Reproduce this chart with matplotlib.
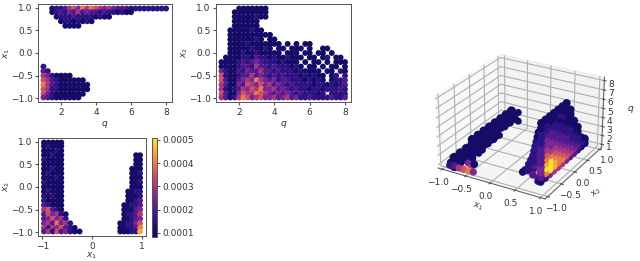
import numpy as np
import matplotlib
matplotlib.use('Agg')
import matplotlib.pyplot as plt
from matplotlib.colors import LinearSegmentedColormap, Normalize

# density levels, one level = 0.00005, 0 = no points
q_bins = [1, 1.25, 1.5, 1.75, 2, 2.25, 2.5, 2.75, 3, 3.25, 3.5, 3.75, 4, 4.25, 4.5,
          4.75, 5, 5.25, 5.5, 5.75, 6, 6.25, 6.5, 6.75, 7, 7.25, 7.5, 7.75, 8]
row_bins = [0.98, 0.9, 0.8, 0.7, 0.6, 0.5, 0.4, 0.3, 0.2, 0.1, 0.0, -0.1, -0.2, -0.3,
            -0.4, -0.5, -0.6, -0.7, -0.8, -0.9, -0.98]

q_x1_levels = [
    [0, 0, 2, 3, 3, 4, 6, 7, 5, 8, 6, 8, 7, 6, 5, 6, 5, 4, 4, 4, 3, 3, 3, 3, 3, 3, 3, 3, 3],
    [0, 0, 2, 3, 4, 3, 5, 4, 6, 4, 5, 4, 4, 3, 4, 3, 3, 2, 3, 2, 2, 0, 0, 0, 0, 0, 0, 0, 0],
    [0, 0, 0, 2, 3, 3, 3, 4, 3, 3, 3, 3, 2, 3, 2, 2, 0, 0, 0, 0, 0, 0, 0, 0, 0, 0, 0, 0, 0],
    [0, 0, 0, 0, 2, 3, 3, 2, 3, 2, 3, 2, 0, 0, 0, 0, 0, 0, 0, 0, 0, 0, 0, 0, 0, 0, 0, 0, 0],
    [0, 0, 0, 0, 0, 2, 2, 2, 2, 0, 0, 0, 0, 0, 0, 0, 0, 0, 0, 0, 0, 0, 0, 0, 0, 0, 0, 0, 0],
    [0] * 29,
    [0] * 29,
    [0] * 29,
    [0] * 29,
    [0] * 29,
    [0] * 29,
    [0] * 29,
    [0] * 29,
    [3, 0, 0, 0, 0, 0, 0, 0, 0, 0, 0, 0, 0, 0, 0, 0, 0, 0, 0, 0, 0, 0, 0, 0, 0, 0, 0, 0, 0],
    [4, 3, 0, 0, 0, 0, 0, 0, 0, 0, 0, 0, 0, 0, 0, 0, 0, 0, 0, 0, 0, 0, 0, 0, 0, 0, 0, 0, 0],
    [6, 5, 3, 2, 2, 2, 2, 0, 0, 0, 0, 0, 0, 0, 0, 0, 0, 0, 0, 0, 0, 0, 0, 0, 0, 0, 0, 0, 0],
    [7, 6, 4, 3, 2, 2, 2, 2, 2, 2, 0, 0, 0, 0, 0, 0, 0, 0, 0, 0, 0, 0, 0, 0, 0, 0, 0, 0, 0],
    [8, 6, 4, 3, 2, 2, 2, 2, 2, 2, 2, 0, 0, 0, 0, 0, 0, 0, 0, 0, 0, 0, 0, 0, 0, 0, 0, 0, 0],
    [7, 6, 3, 3, 2, 2, 2, 2, 2, 2, 2, 0, 0, 0, 0, 0, 0, 0, 0, 0, 0, 0, 0, 0, 0, 0, 0, 0, 0],
    [7, 5, 3, 2, 2, 2, 2, 2, 2, 2, 0, 0, 0, 0, 0, 0, 0, 0, 0, 0, 0, 0, 0, 0, 0, 0, 0, 0, 0],
    [5, 4, 3, 2, 2, 2, 2, 2, 2, 0, 0, 0, 0, 0, 0, 0, 0, 0, 0, 0, 0, 0, 0, 0, 0, 0, 0, 0, 0],
]

q_x2_levels = [
    [0, 0, 0, 0, 2, 2, 2, 2, 2, 2, 2, 0, 0, 0, 0, 0, 0, 0, 0, 0, 0, 0, 0, 0, 0, 0, 0, 0, 0],
    [0, 0, 0, 2, 2, 2, 2, 2, 2, 2, 2, 0, 0, 0, 0, 0, 0, 0, 0, 0, 0, 0, 0, 0, 0, 0, 0, 0, 0],
    [0, 0, 0, 2, 2, 2, 2, 2, 3, 2, 2, 0, 0, 0, 0, 0, 0, 0, 0, 0, 0, 0, 0, 0, 0, 0, 0, 0, 0],
    [0, 0, 0, 2, 2, 2, 2, 2, 2, 0, 0, 0, 0, 0, 0, 0, 0, 0, 0, 0, 0, 0, 0, 0, 0, 0, 0, 0, 0],
    [0, 0, 0, 2, 2, 2, 2, 2, 2, 0, 0, 0, 0, 0, 0, 0, 0, 0, 0, 0, 0, 0, 0, 0, 0, 0, 0, 0, 0],
    [0, 0, 2, 2, 2, 2, 2, 3, 2, 2, 0, 0, 0, 0, 0, 0, 0, 0, 0, 0, 0, 0, 0, 0, 0, 0, 0, 0, 0],
    [0, 0, 2, 2, 2, 2, 2, 2, 2, 2, 2, 2, 0, 0, 0, 0, 0, 0, 0, 0, 0, 0, 0, 0, 0, 0, 0, 0, 0],
    [0, 0, 2, 2, 2, 2, 2, 2, 3, 2, 0, 2, 2, 0, 0, 0, 0, 0, 0, 0, 0, 0, 0, 0, 0, 0, 0, 0, 0],
    [0, 0, 2, 2, 2, 2, 3, 2, 2, 2, 2, 2, 2, 2, 0, 2, 0, 2, 0, 2, 2, 0, 0, 0, 0, 0, 0, 0, 0],
    [0, 0, 2, 2, 2, 2, 2, 3, 2, 2, 3, 2, 0, 2, 2, 0, 2, 2, 2, 0, 2, 0, 0, 2, 2, 0, 0, 0, 0],
    [0, 0, 2, 2, 2, 3, 2, 2, 3, 2, 2, 2, 2, 2, 0, 2, 2, 2, 0, 2, 2, 0, 2, 2, 0, 2, 0, 0, 0],
    [0, 2, 2, 2, 2, 3, 3, 2, 4, 3, 3, 2, 3, 2, 2, 3, 2, 2, 2, 0, 2, 2, 0, 2, 3, 0, 2, 2, 0],
    [2, 2, 2, 2, 3, 4, 3, 4, 5, 4, 3, 3, 3, 2, 3, 2, 2, 2, 0, 2, 0, 2, 2, 0, 2, 0, 2, 2, 2],
    [2, 2, 2, 2, 3, 4, 4, 3, 6, 4, 4, 3, 4, 3, 3, 3, 2, 3, 2, 0, 2, 2, 0, 2, 0, 2, 2, 0, 2],
    [5, 3, 2, 2, 4, 3, 5, 4, 4, 6, 4, 4, 3, 4, 3, 3, 3, 2, 3, 2, 2, 2, 2, 0, 2, 2, 0, 3, 2],
    [7, 3, 2, 2, 3, 4, 4, 6, 4, 5, 4, 3, 4, 3, 4, 3, 3, 3, 2, 3, 2, 3, 2, 2, 0, 2, 3, 0, 3],
    [7, 4, 2, 2, 4, 5, 6, 5, 8, 6, 5, 4, 5, 3, 4, 4, 3, 3, 3, 2, 3, 2, 3, 2, 0, 2, 3, 3, 4],
    [6, 4, 2, 2, 5, 4, 7, 6, 5, 7, 5, 6, 4, 5, 4, 3, 4, 3, 3, 3, 3, 2, 3, 3, 2, 3, 2, 3, 4],
    [6, 3, 2, 3, 4, 6, 5, 7, 6, 8, 5, 5, 6, 4, 5, 4, 3, 4, 3, 3, 2, 3, 3, 2, 3, 3, 3, 4, 3],
    [7, 4, 2, 2, 5, 7, 6, 6, 8, 7, 6, 5, 4, 5, 4, 5, 4, 3, 4, 3, 3, 3, 2, 3, 0, 3, 3, 3, 3],
    [6, 4, 2, 3, 6, 8, 7, 5, 6, 7, 5, 5, 6, 4, 5, 6, 4, 5, 3, 3, 4, 3, 3, 3, 3, 4, 3, 3, 4],
]

x1_bins = [-0.97, -0.88, -0.79, -0.7, -0.62, -0.53, -0.44, -0.35, -0.25,
           0.57, 0.65, 0.73, 0.81, 0.89, 0.97]
x1_x2_levels = [
    [2, 2, 2, 2, 2, 0, 0, 0, 0, 0, 0, 0, 0, 0, 0],
    [2, 3, 2, 2, 2, 0, 0, 0, 0, 0, 0, 0, 0, 0, 0],
    [2, 2, 2, 3, 2, 0, 0, 0, 0, 0, 0, 0, 0, 0, 0],
    [2, 2, 3, 2, 2, 0, 0, 0, 0, 0, 0, 0, 0, 2, 2],
    [3, 2, 2, 2, 2, 0, 0, 0, 0, 0, 0, 0, 0, 2, 2],
    [2, 2, 2, 2, 2, 0, 0, 0, 0, 0, 0, 0, 0, 2, 2],
    [2, 2, 3, 2, 2, 0, 0, 0, 0, 0, 0, 0, 2, 2, 2],
    [2, 3, 2, 2, 2, 0, 0, 0, 0, 0, 0, 0, 2, 2, 3],
    [2, 2, 2, 3, 2, 0, 0, 0, 0, 0, 0, 0, 2, 2, 2],
    [3, 2, 2, 2, 2, 0, 0, 0, 0, 0, 0, 0, 2, 2, 3],
    [2, 2, 2, 2, 2, 0, 0, 0, 0, 0, 0, 0, 2, 2, 2],
    [2, 3, 2, 2, 2, 0, 0, 0, 0, 0, 0, 2, 2, 3, 3],
    [3, 2, 3, 2, 2, 0, 0, 0, 0, 0, 0, 2, 2, 2, 3],
    [3, 2, 2, 2, 2, 0, 0, 0, 0, 0, 0, 2, 2, 3, 4],
    [4, 3, 2, 2, 2, 0, 0, 0, 0, 0, 2, 2, 3, 3, 4],
    [6, 7, 4, 3, 2, 0, 0, 0, 0, 0, 2, 2, 2, 4, 5],
    [4, 7, 5, 6, 3, 2, 0, 0, 0, 0, 2, 3, 3, 4, 6],
    [4, 5, 7, 5, 6, 3, 0, 0, 0, 0, 2, 2, 3, 4, 5],
    [5, 6, 4, 8, 5, 6, 3, 0, 0, 2, 2, 3, 3, 5, 7],
    [6, 3, 6, 5, 7, 4, 3, 2, 0, 2, 2, 3, 3, 4, 8],
    [4, 6, 3, 7, 4, 5, 3, 2, 2, 2, 2, 2, 3, 3, 9],
]

# 3d view, right sheet at x1 = 0.95, rows q, columns x2
right_q = [8, 7.5, 7, 6.5, 6, 5.5, 5, 4.5, 4, 3.5, 3, 2.5, 2]
right_x2 = [-1, -0.85, -0.7, -0.55, -0.4, -0.25, -0.1, 0.05, 0.2, 0.35, 0.5, 0.65]
right_levels = [
    [2, 2, 2, 2, 2, 2, 2, 0, 0, 0, 0, 0],
    [2, 3, 2, 2, 3, 2, 2, 0, 0, 0, 0, 0],
    [3, 3, 3, 3, 2, 3, 2, 2, 0, 0, 0, 0],
    [3, 4, 4, 3, 3, 2, 2, 2, 0, 0, 0, 0],
    [3, 5, 4, 4, 3, 3, 2, 2, 0, 0, 0, 0],
    [4, 5, 5, 4, 4, 3, 3, 2, 2, 0, 0, 0],
    [4, 6, 5, 5, 4, 4, 3, 3, 2, 0, 0, 0],
    [4, 7, 6, 6, 5, 4, 4, 3, 2, 2, 0, 0],
    [4, 8, 8, 7, 6, 5, 4, 3, 3, 2, 0, 0],
    [5, 9, 10, 8, 7, 6, 5, 4, 3, 3, 0, 0],
    [5, 10, 10, 9, 8, 7, 6, 5, 4, 3, 2, 0],
    [4, 8, 10, 9, 8, 8, 7, 6, 5, 4, 3, 2],
    [2, 3, 5, 6, 6, 6, 5, 4, 4, 3, 2, 2],
]
wedge_x1 = [0.6, 0.65, 0.7, 0.75, 0.8, 0.8, 0.85, 0.7, 0.85, 0.9, 0.65,
            0.72, 0.76, 0.8, 0.82, 0.84, 0.86, 0.88, 0.9, 0.78, 0.84]
wedge_x2 = [-1, -0.9, -1, -0.85, -1, -0.9, -1, -0.8, -0.9, -1, -1,
            -1, -1, -1, -1, -1, -1, -1, -1, -0.85, -0.85]
wedge_q = [2.5, 2.5, 3, 3, 2.5, 3.5, 4, 2.5, 2, 2, 2.8,
           3.5, 4, 4.5, 5, 5.5, 6, 6.5, 7, 4, 5]
wedge_levels = [2, 3, 3, 4, 4, 4, 3, 3, 3, 3, 2,
                3, 3, 3, 3, 3, 3, 2, 2, 4, 4]

# left sheet at x1 = -0.8, rows q, columns x2
left_q = [2.5, 2, 1.5, 1]
left_x2 = [-1, -0.8, -0.6, -0.4, -0.2, 0, 0.2, 0.4, 0.6, 0.8, 1]
left_levels = [
    [0, 0, 0, 2, 2, 2, 2, 2, 2, 2, 2],
    [2, 2, 2, 2, 2, 2, 2, 2, 2, 2, 2],
    [2, 2, 2, 2, 2, 2, 2, 2, 2, 2, 2],
    [2, 2, 2, 2, 2, 2, 2, 2, 0, 0, 0],
]
tail_x1 = [-0.5, -0.6, -0.7, -0.4, -0.5, -0.6, -0.45, -0.6, -0.65, -0.9, -0.8, -0.95,
           -0.55, -0.5, -0.6, -0.65, -0.65, -0.65, -0.65, -0.65, -0.65, -0.65, -0.65, -0.65]
tail_x2 = [-1, -1, -1, -1, -0.9, -0.85, -0.9, -0.7, -0.6, -1, -1, -0.9,
           -0.8, -0.8, -0.5, -0.3, -0.1, 0.1, 0.3, 0.5, 0.7, 0.9, 1, 1]
tail_q = [1, 1, 1, 1, 1.2, 1.3, 1.5, 1.5, 1.8, 1, 1.1, 1,
          1.5, 1.2, 1.5, 1.3, 1.5, 1.5, 1.5, 2, 2, 2, 2.5, 1.5]
tail_levels = [8, 7, 6, 5, 6, 5, 2, 2, 2, 3, 4, 2,
               2, 2, 2, 2, 2, 2, 2, 2, 2, 2, 2, 2]

cbar_ticks = [0.0001, 0.0002, 0.0003, 0.0004, 0.0005]

LEVEL = 0.00005
cmap = LinearSegmentedColormap.from_list(
    'density', ['#0c0a5e', '#35158c', '#7c2592', '#c8476e', '#f08f3c', '#fde72e'])
norm = Normalize(0.0000814, 0.0005086)

plt.rcParams['font.size'] = 6.5
plt.rcParams['text.color'] = '#333333'
plt.rcParams['axes.labelcolor'] = '#333333'
plt.rcParams['xtick.labelcolor'] = '#333333'
plt.rcParams['ytick.labelcolor'] = '#333333'
plt.rcParams['axes.edgecolor'] = '#555555'
plt.rcParams['xtick.color'] = '#555555'
plt.rcParams['ytick.color'] = '#555555'
plt.rcParams['axes.linewidth'] = 0.7
plt.rcParams['xtick.major.size'] = 2
plt.rcParams['ytick.major.size'] = 2
plt.rcParams['xtick.major.pad'] = 2
plt.rcParams['ytick.major.pad'] = 2
plt.rcParams['axes.labelpad'] = 1


def grid_points(cols, rows, levels):
    xx, yy = np.meshgrid(cols, rows)
    vals = np.array(levels)
    keep = vals > 0
    return xx[keep], yy[keep], vals[keep] * LEVEL


def px_axes(fig, left, top, right, bottom, **kw):
    return fig.add_axes([left / 640, 1 - bottom / 261, (right - left) / 640, (bottom - top) / 261], **kw)


fig = plt.figure(figsize=(6.4, 2.61), dpi=100)

ax1 = px_axes(fig, 38, 4, 172, 102)
x, y, c = grid_points(q_bins, row_bins, q_x1_levels)
ax1.scatter(x, y, c=c, s=18, cmap=cmap, norm=norm, linewidths=0)
ax1.set_xlim(0.69, 8.34)
ax1.set_ylim(-1.08, 1.08)
ax1.set_xticks([2, 4, 6, 8])
ax1.set_xlabel('$q$', labelpad=2)
ax1.set_ylabel('$x_1$', labelpad=-1)

ax2 = px_axes(fig, 216, 4, 351, 102)
x, y, c = grid_points(q_bins, row_bins, q_x2_levels)
ax2.scatter(x, y, c=c, s=18, cmap=cmap, norm=norm, linewidths=0)
ax2.set_xlim(0.69, 8.34)
ax2.set_ylim(-1.08, 1.08)
ax2.set_xticks([2, 4, 6, 8])
ax2.set_xlabel('$q$', labelpad=2)
ax2.set_ylabel('$x_2$', labelpad=-1)

ax3 = px_axes(fig, 38, 138, 146, 236)
x, y, c = grid_points(x1_bins, row_bins, x1_x2_levels)
pts = ax3.scatter(x, y, c=c, s=18, cmap=cmap, norm=norm, linewidths=0)
ax3.set_xlim(-1.09, 1.09)
ax3.set_ylim(-1.08, 1.08)
ax3.set_xticks([-1, 0, 1])
ax3.set_xlabel('$x_1$', labelpad=0)
ax3.set_ylabel('$x_2$', labelpad=-1)

cax = px_axes(fig, 152, 138, 157, 237)
cb = fig.colorbar(pts, cax=cax)
cb.set_ticks(cbar_ticks)
cb.set_ticklabels(['%.4f' % t for t in cbar_ticks])

ax4 = px_axes(fig, 427, 30, 611, 220, projection='3d')
ax4.view_init(elev=26, azim=-60)
ax4.set_box_aspect((4, 4, 2.6))
lx2, lq, lc = grid_points(left_x2, left_q, left_levels)
rx2, rq, rc = grid_points(right_x2, right_q, right_levels)
ax4.scatter(np.full(lx2.shape, -0.8), lx2, lq, c=lc, s=42, cmap=cmap, norm=norm, linewidths=0, depthshade=False)
ax4.scatter(tail_x1, tail_x2, tail_q, c=np.array(tail_levels) * LEVEL, s=26, cmap=cmap, norm=norm, linewidths=0, depthshade=False)
ax4.scatter(wedge_x1, wedge_x2, wedge_q, c=np.array(wedge_levels) * LEVEL, s=30, cmap=cmap, norm=norm, linewidths=0, depthshade=False)
ax4.scatter(np.full(rx2.shape, 0.95), rx2, rq, c=rc, s=34, cmap=cmap, norm=norm, linewidths=0, depthshade=False)
ax4.set_xlim(-1.09, 1.09)
ax4.set_ylim(-1.09, 1.09)
ax4.set_zlim(0.65, 8.35)
ax4.set_xticks([-1, -0.5, 0, 0.5, 1])
ax4.set_yticks([-1, -0.5, 0, 0.5, 1])
ax4.set_zticks([1, 2, 3, 4, 5, 6, 7, 8])
ax4.set_xlabel('$x_1$', labelpad=-8)
ax4.set_ylabel('$x_2$', labelpad=-7)
ax4.set_zlabel('$q$', labelpad=-9)
ax4.tick_params(axis='both', pad=-3, labelsize=6.5)
ax4.tick_params(axis='z', pad=-5)

fig.savefig('out.png', dpi=100)
